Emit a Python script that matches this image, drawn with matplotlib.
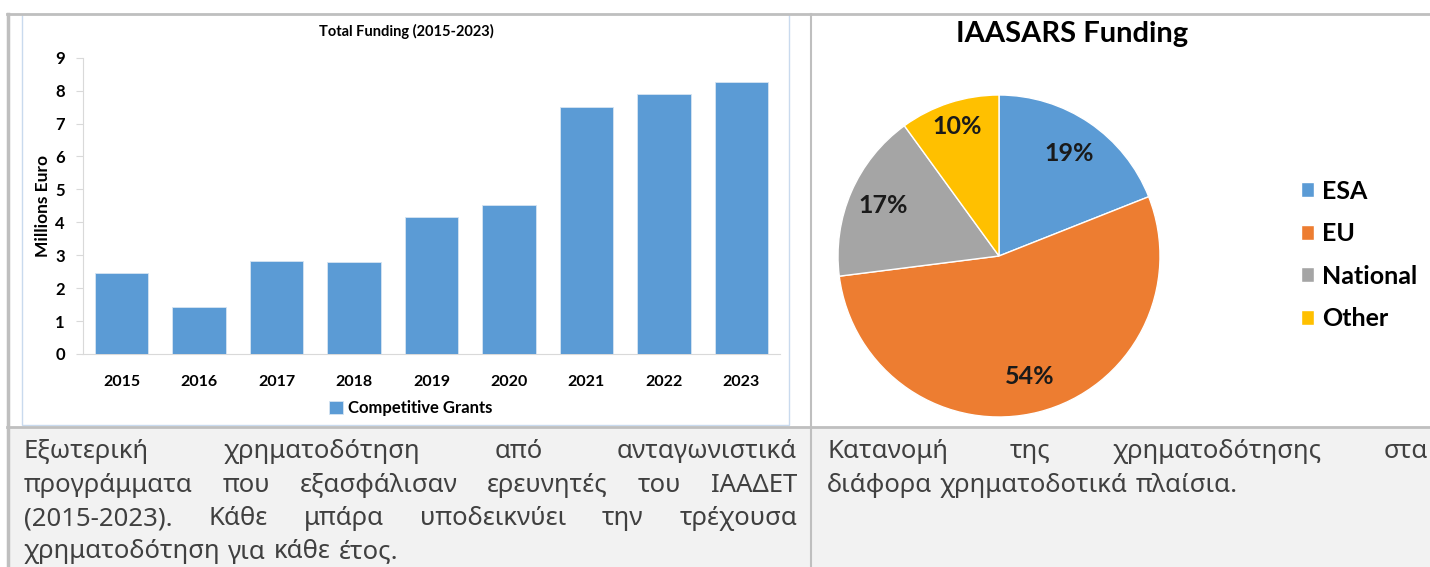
import numpy as np
import matplotlib
matplotlib.use('Agg')
import matplotlib.pyplot as plt
from matplotlib.patches import Rectangle
from matplotlib.lines import Line2D

# 数据
years = ['2015', '2016', '2017', '2018', '2019', '2020', '2021', '2022', '2023']
grants = [2.47, 1.44, 2.83, 2.80, 4.17, 4.54, 7.49, 7.91, 8.26]
bar_series = 'Competitive Grants'

sources = ['ESA', 'EU', 'National', 'Other']
shares = [19, 54, 17, 10]
pie_colors = ['#5B9BD5', '#ED7D31', '#A5A5A5', '#FFC000']

caption_left = [
    'Εξωτερική χρηματοδότηση από ανταγωνιστικά',
    'προγράμματα που εξασφάλισαν ερευνητές του ΙΑΑΔΕΤ',
    '(2015-2023). Κάθε μπάρα υποδεικνύει την τρέχουσα',
    'χρηματοδότηση για κάθε έτος.',
]
caption_right = [
    'Κατανομή της χρηματοδότησης στα',
    'διάφορα χρηματοδοτικά πλαίσια.',
]

W, H = 1430, 567
fig = plt.figure(figsize=(W / 100, H / 100), dpi=100)
plt.rcParams['font.family'] = ['Lato', 'DejaVu Sans']


def box(x0, y0, x1, y1):
    # 像素坐标(左上原点) -> figure 坐标
    return [x0 / W, 1 - y1 / H, (x1 - x0) / W, (y1 - y0) / H]


def fx(x):
    return x / W


def fy(y):
    return 1 - y / H


# 背景和表格线
fig.patches.append(Rectangle((fx(7), 0), fx(1430) - fx(7), fy(427), transform=fig.transFigure,
                             facecolor='#F2F2F2', edgecolor='none', zorder=-2))
grey = '#BFBFBF'
fig.add_artist(Line2D([fx(7), fx(1430)], [fy(14), fy(14)], color=grey, lw=2))
fig.add_artist(Line2D([fx(8), fx(8)], [0, fy(14)], color=grey, lw=2.5))
fig.add_artist(Line2D([fx(7), fx(1430)], [fy(427), fy(427)], color=grey, lw=2))
fig.add_artist(Line2D([fx(811), fx(811)], [0, fy(14)], color=grey, lw=1.5))
# 柱状图外框(浅蓝)
fig.patches.append(Rectangle((fx(22), fy(425)), fx(789) - fx(22), fy(14) - fy(425),
                             transform=fig.transFigure, facecolor='white',
                             edgecolor='#C9DAEE', lw=1, zorder=-1))

# 柱状图
ax = fig.add_axes(box(83, 57.7, 780, 354))
x = np.arange(len(years))
ax.bar(x, grants, width=0.69, color='#5B9BD5', edgecolor='#D6E4F2', lw=0.6,
       label=bar_series, zorder=3)
ax.set_xlim(-0.5, len(years) - 0.5)
ax.set_ylim(0, 9)
ax.set_yticks(range(10))
ax.set_xticks(x)
ax.set_xticklabels(years)
for s in ['top', 'right']:
    ax.spines[s].set_visible(False)
ax.spines['left'].set_color('#D9D9D9')
ax.spines['bottom'].set_color('#D9D9D9')
ax.tick_params(axis='y', length=5, color='#D9D9D9', labelsize=12, pad=8)
ax.tick_params(axis='x', length=0, labelsize=11.5, pad=15)
for t in ax.get_xticklabels() + ax.get_yticklabels():
    t.set_fontweight('bold')
ax.set_ylabel('Millions Euro', fontsize=12.5, fontweight='bold', labelpad=3)
ax.patch.set_alpha(0)
fig.text(fx(406), fy(31), 'Total Funding (2015-2023)', ha='center', va='center',
         fontsize=10.5, fontweight='bold')
fig.legend(loc='center', bbox_to_anchor=(fx(411), fy(408)), frameon=False,
           prop={'weight': 'bold', 'size': 12}, handlelength=0.8, handleheight=0.8,
           handletextpad=0.35, borderpad=0)

# 饼图
ax2 = fig.add_axes(box(838, 95, 1160, 417))
wedges, texts, autotexts = ax2.pie(
    shares, colors=pie_colors, startangle=90, counterclock=False,
    autopct='%d%%', pctdistance=0.77,
    wedgeprops={'edgecolor': 'white', 'linewidth': 1},
    textprops={'fontsize': 18, 'fontweight': 'bold', 'color': '#1a1a1a'})
# 小扇区的标签稍微往外放
for t, k in zip(autotexts, [1.0, 1.0, 1.02, 1.1]):
    px, py = t.get_position()
    t.set_position((px * k, py * k))
ax2.set_xlim(-1, 1)
ax2.set_ylim(-1, 1)
fig.text(fx(1072), fy(34), 'IAASARS Funding', ha='center', va='center',
         fontsize=21, fontweight='bold')
fig.legend(wedges, sources, loc='center left', bbox_to_anchor=(fx(1288), fy(255)),
           frameon=False, prop={'weight': 'bold', 'size': 18}, handlelength=0.55,
           handleheight=0.55, handletextpad=0.3, labelspacing=0.78, borderpad=0)

# 底部说明文字(两端对齐)
fig.canvas.draw()
renderer = fig.canvas.get_renderer()
cap_font = ['Noto Sans', 'DejaVu Sans']


def justify(lines, x0, x1, y_base, dy, size):
    for i, line in enumerate(lines):
        words = line.split()
        yy = fy(y_base + i * dy)
        objs = [fig.text(0, yy, w, fontsize=size, family=cap_font, color='#404040',
                         va='baseline', ha='left') for w in words]
        widths = [o.get_window_extent(renderer).width for o in objs]
        last = i == len(lines) - 1
        if last or len(words) == 1:
            gap = renderer.points_to_pixels(size) * 0.3
        else:
            gap = (x1 - x0 - sum(widths)) / (len(words) - 1)
        pos = x0
        for o, w in zip(objs, widths):
            o.set_x(fx(pos))
            pos += w + gap


justify(caption_left, 24, 797, 458, 33.5, 18.5)
justify(caption_right, 827, 1428, 458, 33.5, 18.5)

fig.savefig('out.png', dpi=100)
